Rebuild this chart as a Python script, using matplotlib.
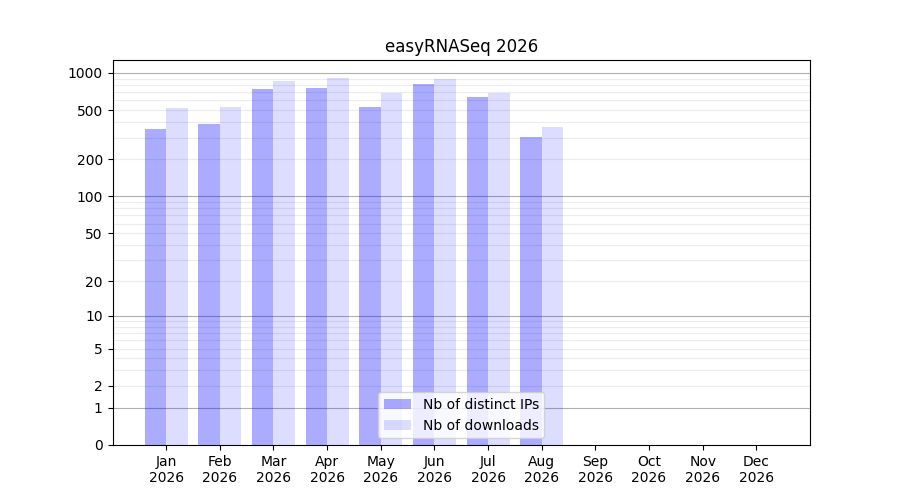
import numpy as np
from matplotlib import pyplot as plt

months = ['Jan', 'Feb', 'Mar', 'Apr', 'May', 'Jun', 'Jul', 'Aug', 'Sep', 'Oct', 'Nov', 'Dec']
year = 2026
distinct_ips = [353, 387, 742, 756, 531, 815, 640, 304]
downloads = [521, 531, 861, 911, 690, 894, 690, 366]
yticks = [0, 1, 2, 5, 10, 20, 50, 100, 200, 500, 1000]

def fwd(v):
    return np.log10(1 + np.maximum(v, 0))

def inv(v):
    return 10 ** v - 1

fig, ax = plt.subplots(figsize=(9, 5), dpi=100)
ax.set_yscale('function', functions=(fwd, inv))

# grid lines, major on powers of ten, light ones in between
for p in [1, 10, 100, 1000]:
    ax.axhline(p, color='#b0b0b0', lw=0.8, zorder=0)
    for k in range(2, 10):
        ax.axhline(p * k, color='#ececec', lw=0.8, zorder=0)

x = np.arange(1, len(distinct_ips) + 1)
ax.bar(x, distinct_ips, width=-0.4, align='edge', color='blue', alpha=0.33,
       lw=0, label='Nb of distinct IPs', zorder=1)
ax.bar(x, downloads, width=0.4, align='edge', color='blue', alpha=0.133,
       lw=0, label='Nb of downloads', zorder=1)

ax.set_xlim(0, 13)
ax.set_ylim(0, 1273)
ax.set_xticks(np.arange(1, 13))
ax.set_xticklabels([m + '\n' + str(year) for m in months])
ax.set_yticks(yticks)
ax.set_yticklabels([str(t) for t in yticks])
ax.yaxis.set_minor_locator(plt.NullLocator())
ax.set_title('easyRNASeq ' + str(year))
ax.legend(loc='lower center')

plt.savefig('out.png')
